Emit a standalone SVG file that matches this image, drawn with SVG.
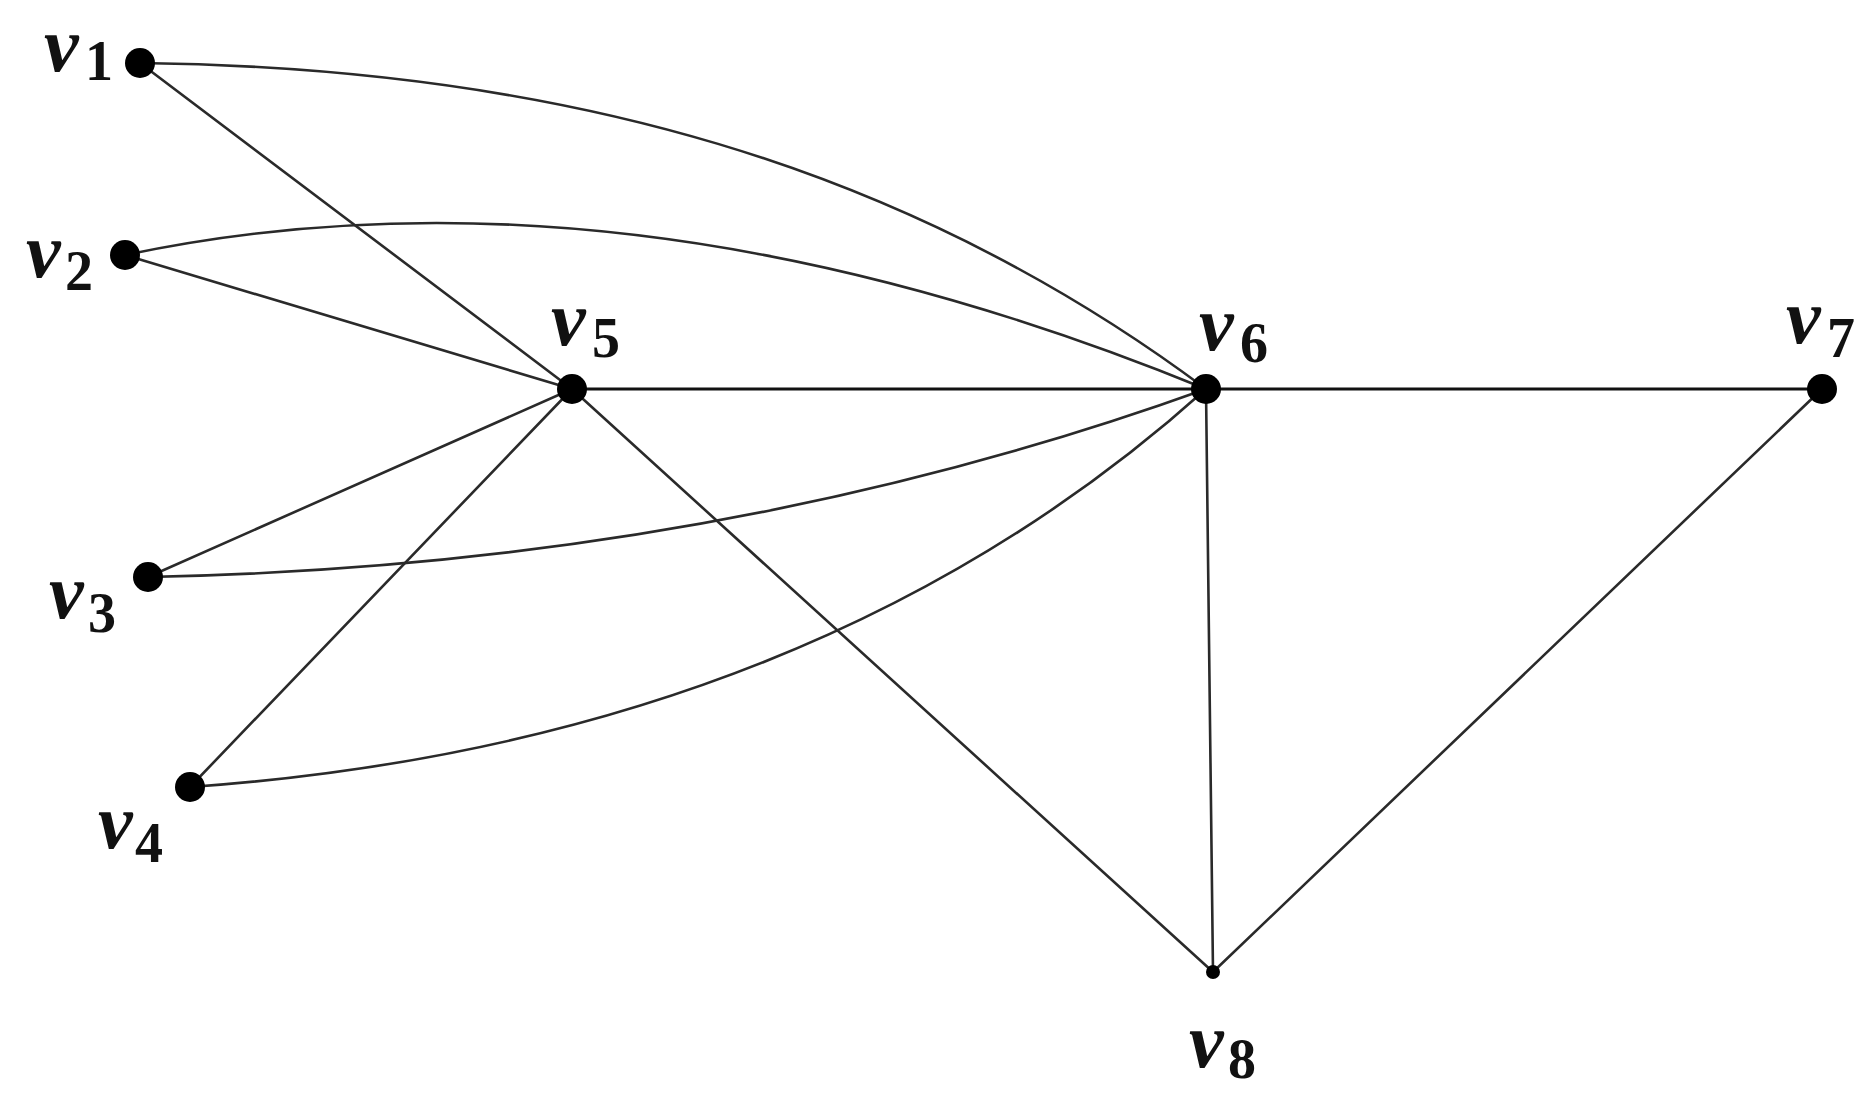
<svg xmlns="http://www.w3.org/2000/svg" width="1870" height="1106" viewBox="0 0 1870 1106">
<style>
.e{fill:none;stroke:#2a2a2a;stroke-width:2.6;stroke-linecap:round}
.n{fill:#000}
.v{font-family:"Liberation Serif","Times New Roman",serif;font-style:italic;font-weight:bold;font-size:78px;fill:#111}
.s{font-family:"Liberation Serif","Times New Roman",serif;font-weight:bold;font-size:56px;fill:#111}
</style>
<rect width="1870" height="1106" fill="#fff"/>
<g id="connectors">
<line class="e" x1="140" y1="63" x2="572" y2="389"/>
<line class="e" x1="125" y1="255" x2="572" y2="389"/>
<line class="e" x1="148" y1="577" x2="572" y2="389"/>
<line class="e" x1="190" y1="787" x2="572" y2="389"/>
<line class="e" x1="572" y1="389" x2="1206" y2="389" style="stroke:#111;stroke-width:3"/>
<line class="e" x1="572" y1="389" x2="1213" y2="972"/>
<line class="e" x1="1206" y1="389" x2="1822" y2="389" style="stroke:#111;stroke-width:3"/>
<line class="e" x1="1206" y1="389" x2="1213" y2="972"/>
<line class="e" x1="1822" y1="389" x2="1213" y2="972"/>
<path class="e" d="M140,63 C560,68 906,165 1206,389"/>
<path class="e" d="M125,255 Q622,150 1206,389"/>
<path class="e" d="M148,577 Q715,566 1206,389"/>
<path class="e" d="M190,787 Q812,743 1206,389"/>
</g>
<g id="v1"><circle class="n" cx="140" cy="63" r="15"/><text><tspan class="v" x="44" y="71">v</tspan><tspan class="s" x="85" y="80">1</tspan></text></g>
<g id="v2"><circle class="n" cx="125" cy="255" r="15"/><text><tspan class="v" x="26" y="277">v</tspan><tspan class="s" x="65" y="290">2</tspan></text></g>
<g id="v3"><circle class="n" cx="148" cy="577" r="15"/><text><tspan class="v" x="49" y="618">v</tspan><tspan class="s" x="88" y="632">3</tspan></text></g>
<g id="v4"><circle class="n" cx="190" cy="787" r="15"/><text><tspan class="v" x="98" y="848">v</tspan><tspan class="s" x="135" y="862">4</tspan></text></g>
<g id="v5"><circle class="n" cx="572" cy="389" r="15"/><text><tspan class="v" x="551" y="345">v</tspan><tspan class="s" x="592" y="357">5</tspan></text></g>
<g id="v6"><circle class="n" cx="1206" cy="389" r="15"/><text><tspan class="v" x="1199" y="350">v</tspan><tspan class="s" x="1240" y="362">6</tspan></text></g>
<g id="v7"><circle class="n" cx="1822" cy="389" r="15"/><text><tspan class="v" x="1786" y="343">v</tspan><tspan class="s" x="1827" y="357">7</tspan></text></g>
<g id="v8"><circle class="n" cx="1213" cy="972" r="7"/><text><tspan class="v" x="1189" y="1067">v</tspan><tspan class="s" x="1228" y="1078">8</tspan></text></g>
</svg>
